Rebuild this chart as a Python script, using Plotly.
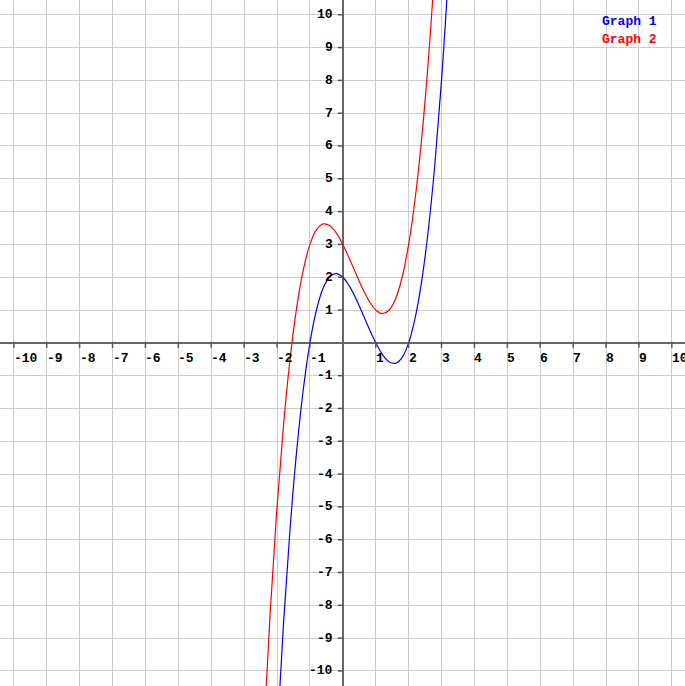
import plotly.graph_objects as go

# ---- data ----
blue_x = [-2.0, -1.8, -1.6, -1.4, -1.2, -1.0, -0.8, -0.6, -0.4, -0.2, 0.0, 0.2, 0.4,
          0.6, 0.8, 1.0, 1.2, 1.4, 1.6, 1.8, 2.0, 2.2, 2.4, 2.6, 2.8, 3.0, 3.2]
blue_y = [-12.0, -8.512, -5.616, -3.264, -1.408, 0.0, 1.008, 1.664, 2.016, 2.112, 2.0,
          1.728, 1.344, 0.896, 0.432, 0.0, -0.352, -0.576, -0.624, -0.448, 0.0, 0.768,
          1.904, 3.456, 5.472, 8.0, 11.088]
red_x = [-2.4, -2.2, -2.0, -1.8, -1.6, -1.4, -1.2, -1.0, -0.8, -0.6, -0.4, -0.2, 0.0,
         0.2, 0.4, 0.6, 0.8, 1.0, 1.2, 1.4, 1.6, 1.8, 2.0, 2.2, 2.4, 2.6, 2.8]
red_y = [-11.784, -8.088, -5.0, -2.472, -0.456, 1.096, 2.232, 3.0, 3.448, 3.624, 3.576,
         3.352, 3.0, 2.568, 2.104, 1.656, 1.272, 1.0, 0.888, 0.984, 1.336, 1.992, 3.0,
         4.408, 6.264, 8.616, 11.512]
x_ticks = [-10, -9, -8, -7, -6, -5, -4, -3, -2, -1, 1, 2, 3, 4, 5, 6, 7, 8, 9, 10]
y_ticks = [-10, -9, -8, -7, -6, -5, -4, -3, -2, -1, 1, 2, 3, 4, 5, 6, 7, 8, 9, 10]
series_names = ["Graph 1", "Graph 2"]
series_colors = ["#0000ff", "#ff0000"]

W, H = 685, 686
FONT = dict(family="Liberation Mono, Courier New, monospace", size=13, color="#000000", weight="bold")

fig = go.Figure()
fig.add_trace(go.Scatter(x=blue_x, y=blue_y, mode="lines", name=series_names[0],
                         line=dict(color=series_colors[0], width=1.2, shape="spline"),
                         hoverinfo="skip"))
fig.add_trace(go.Scatter(x=red_x, y=red_y, mode="lines", name=series_names[1],
                         line=dict(color=series_colors[1], width=1.2, shape="spline"),
                         hoverinfo="skip"))

shapes = []
for k in x_ticks:
    shapes.append(dict(type="line", xref="x", yref="y", x0=k, x1=k,
                       ysizemode="pixel", yanchor=0, y0=1, y1=-5,
                       line=dict(color="#555555", width=1.5)))
for k in y_ticks:
    shapes.append(dict(type="line", xref="x", yref="y", y0=k, y1=k,
                       xsizemode="pixel", xanchor=0, x0=-5, x1=0,
                       line=dict(color="#555555", width=1.5)))

annotations = []
for k in x_ticks:
    annotations.append(dict(x=k, y=0, xref="x", yref="y", text=str(k), showarrow=False,
                            xanchor="left", yanchor="top", xshift=-2, yshift=-6, font=FONT))
for k in y_ticks:
    annotations.append(dict(x=0, y=k, xref="x", yref="y", text=str(k), showarrow=False,
                            xanchor="right", yanchor="middle", xshift=-8, yshift=0, font=FONT))
for i, (nm, col) in enumerate(zip(series_names, series_colors)):
    annotations.append(dict(x=600 / W, y=1 - (22 + 18 * i) / H, xref="paper", yref="paper",
                            text=nm, showarrow=False, xanchor="left", yanchor="middle",
                            font=dict(FONT, color=col)))

axis_common = dict(dtick=1, tick0=0, showgrid=True, gridcolor="#cccccc", gridwidth=1,
                   zeroline=True, zerolinecolor="#666666", zerolinewidth=2,
                   showticklabels=False, ticks="", showline=False, fixedrange=True)
fig.update_layout(
    width=W, height=H,
    margin=dict(l=0, r=0, t=0, b=0),
    paper_bgcolor="#ffffff", plot_bgcolor="#ffffff",
    showlegend=False,
    xaxis=dict(range=[-10.42, 10.40], **axis_common),
    yaxis=dict(range=[-10.46, 10.45], **axis_common),
    shapes=shapes,
    annotations=annotations,
)
fig.write_html("out.html", config={"displayModeBar": False},
               post_script="document.body.style.margin='0';document.body.style.overflow='hidden';")
